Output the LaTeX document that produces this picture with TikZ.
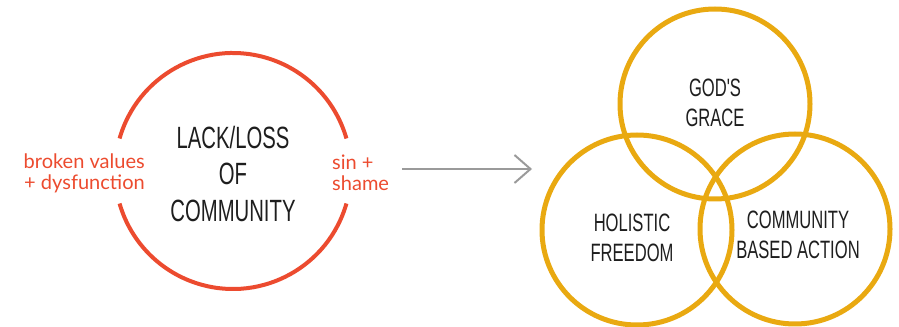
\documentclass[tikz,border=0pt]{standalone}
\usepackage{fontspec}
\usetikzlibrary{arrows.meta}
\newfontfamily\titlefont[FakeStretch=0.66]{Liberation Sans}
\newfontfamily\notefont{Lato}
\definecolor{lossred}{HTML}{EC4B2F}
\definecolor{gracegold}{HTML}{E9A911}
\definecolor{arrowgray}{HTML}{9A9A9A}
\definecolor{inkblack}{HTML}{1E1E1E}
\tikzset{
  lossarc/.style={draw=lossred, line width=0.08cm},
  ring/.style={draw=gracegold, line width=0.1cm},
  bigtitle/.style={font=\titlefont\fontsize{17.5}{20.5}\selectfont, text=inkblack, align=center},
  smalltitle/.style={font=\titlefont\fontsize{14.3}{17}\selectfont, text=inkblack, align=center},
  note/.style={font=\notefont\fontsize{11.4}{12}\selectfont, text=lossred}
}

\begin{document}
\begin{tikzpicture}[x=0.02cm,y=-0.02cm]
    \useasboundingbox (0,0) rectangle (899,327);
    \def\rloss{118}
    \def\rring{95}
    \def\gap{16}

    % broken circle on the left
    \coordinate (loss) at (233,171);
    \draw[lossarc] (loss) ++(\gap:\rloss) arc[start angle=\gap, end angle=180-\gap, radius=\rloss];
    \draw[lossarc] (loss) ++(180+\gap:\rloss) arc[start angle=180+\gap, end angle=360-\gap, radius=\rloss];
    \node[bigtitle] (lackloss) at (233,174) {LACK/LOSS\\OF\\COMMUNITY};
    \node[note, anchor=east, align=right] (broken) at (151,173) {broken values\\+ dysfunction};
    \node[note, anchor=west, align=left] (sinshame) at (326,173) {sin +\\shame};

    % arrow
    \coordinate (arrowstart) at (402,169);
    \coordinate (arrowend) at (532,169);
    \draw[arrowgray, line width=0.04cm, -{Straight Barb[length=0.32cm, width=0.56cm, line width=0.04cm]}] (arrowstart) -- (arrowend);

    % three rings
    \coordinate (grace) at (715,104);
    \coordinate (freedom) at (637,230);
    \coordinate (action) at (795,229);
    \draw[ring] (grace) circle[radius=\rring];
    \draw[ring] (freedom) circle[radius=\rring];
    \draw[ring] (action) circle[radius=\rring];
    \node[smalltitle] (gracetext) at (715,103) {GOD'S\\GRACE};
    \node[smalltitle] (freedomtext) at (632,238) {HOLISTIC\\FREEDOM};
    \node[smalltitle] (actiontext) at (798,235) {COMMUNITY\\BASED ACTION};

\end{tikzpicture}
\end{document}
